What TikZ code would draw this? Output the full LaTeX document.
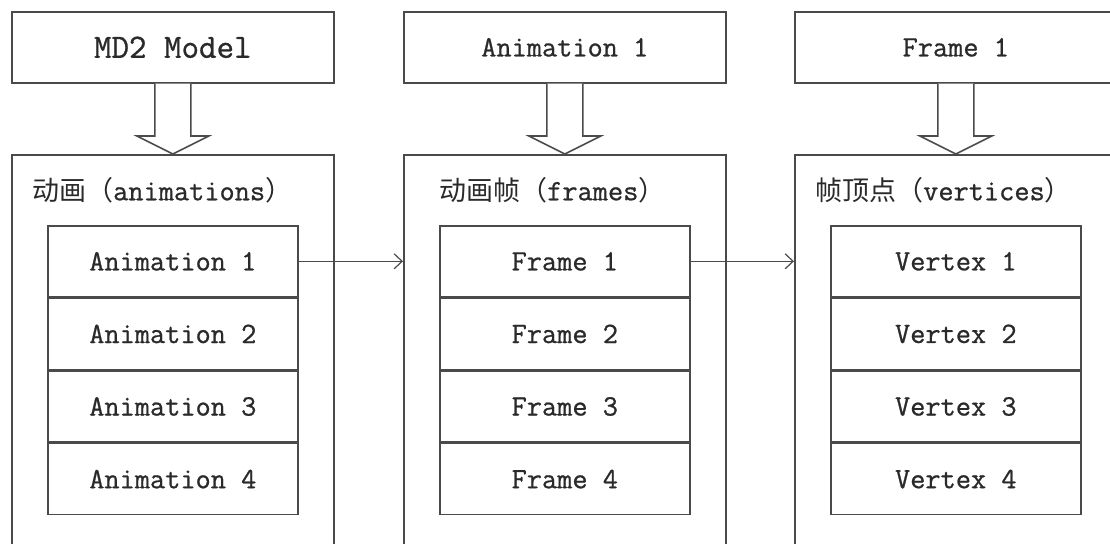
\documentclass[tikz,border=0pt]{standalone}
\usepackage{fontspec}
\setmonofont{Latin Modern Mono}[FakeBold=0.8]
\newfontfamily\cjk{Noto Sans CJK SC}
\usetikzlibrary{arrows.meta}
\definecolor{ln}{HTML}{4A4A4A}
\definecolor{tx}{HTML}{2A2A2A}
\tikzset{
  box/.style={draw=ln, line width=1.6pt, fill=white, minimum width=322pt, inner sep=0pt, text=tx},
  topbox/.style={box, minimum height=71pt, font=\ttfamily\fontsize{29.5}{33}\selectfont},
  outerbox/.style={box, minimum height=420pt},
  rowbox/.style={draw=ln, line width=1.6pt, minimum width=250pt, minimum height=71pt, inner sep=0pt, text=tx, font=\ttfamily\fontsize{29.5}{33}\selectfont},
  title/.style={inner sep=0pt, text=tx, font=\ttfamily\fontsize{29.5}{33}\selectfont},
  hollow/.style={draw=ln, line width=1.6pt, fill=white, line join=miter},
  link/.style={draw=ln, line width=1.2pt, -{Straight Barb[length=8pt,width=15pt,line width=1.2pt]}}
}
\newcommand{\cj}[1]{{\cjk\fontsize{27}{30}\selectfont #1}}
\newcommand{\hollowarrow}[2]{%
  \path[hollow] ([xshift=-18pt]#1.south) -- ([xshift=-18pt,yshift=18pt]#2.north) -- ([xshift=-36pt,yshift=18pt]#2.north) -- (#2.north) -- ([xshift=36pt,yshift=18pt]#2.north) -- ([xshift=18pt,yshift=18pt]#2.north) -- ([xshift=18pt]#1.south);}
\begin{document}
\begin{tikzpicture}[x=1pt,y=-1pt]
\useasboundingbox (0,0) rectangle (1110,543);
\clip (0,0) rectangle (1110,543);
\fill[white] (0,0) rectangle (1110,543);
% top boxes
\node[topbox, anchor=north west, font=\ttfamily\fontsize{34}{38}\selectfont] (t1) at (11,11) {MD2 Model};
\node[topbox, anchor=north west] (t2) at (403,11) {Animation 1};
\node[topbox, anchor=north west] (t3) at (794,11) {Frame 1};
% outer boxes
\node[outerbox, anchor=north west] (o1) at (11,154) {};
\node[outerbox, anchor=north west] (o2) at (403,154) {};
\node[outerbox, anchor=north west] (o3) at (794,154) {};
% hollow arrows
\hollowarrow{t1}{o1}
\hollowarrow{t2}{o2}
\hollowarrow{t3}{o3}
% titles
\node[title, anchor=west] (h1) at ([xshift=21pt,yshift=-36pt]o1.north west) {\cj{动画（}animations\cj{）}};
\node[title, anchor=west] (h2) at ([xshift=36pt,yshift=-36pt]o2.north west) {\cj{动画帧（}frames\cj{）}};
\node[title, anchor=west] (h3) at ([xshift=21pt,yshift=-36pt]o3.north west) {\cj{帧顶点（}vertices\cj{）}};
% rows
\node[rowbox, anchor=north west] (a1) at ([xshift=36pt,yshift=-71pt]o1.north west) {Animation 1};
\node[rowbox, anchor=north] (a2) at (a1.south) {Animation 2};
\node[rowbox, anchor=north] (a3) at (a2.south) {Animation 3};
\node[rowbox, anchor=north] (a4) at (a3.south) {Animation 4};
\node[rowbox, anchor=north west] (f1) at ([xshift=36pt,yshift=-71pt]o2.north west) {Frame 1};
\node[rowbox, anchor=north] (f2) at (f1.south) {Frame 2};
\node[rowbox, anchor=north] (f3) at (f2.south) {Frame 3};
\node[rowbox, anchor=north] (f4) at (f3.south) {Frame 4};
\node[rowbox, anchor=north west] (v1) at ([xshift=36pt,yshift=-71pt]o3.north west) {Vertex 1};
\node[rowbox, anchor=north] (v2) at (v1.south) {Vertex 2};
\node[rowbox, anchor=north] (v3) at (v2.south) {Vertex 3};
\node[rowbox, anchor=north] (v4) at (v3.south) {Vertex 4};
% links
\draw[link] (a1.east) -- (o2.west |- a1.east);
\draw[link] (f1.east) -- (o3.west |- f1.east);
\end{tikzpicture}
\end{document}
